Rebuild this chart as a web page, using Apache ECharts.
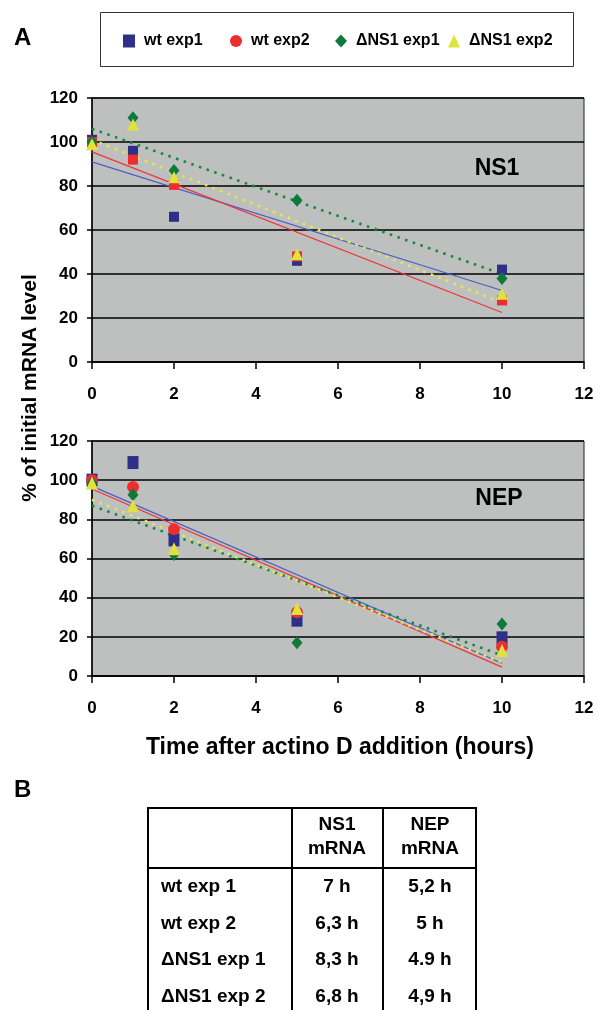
<!DOCTYPE html>
<html>
<head>
<meta charset="utf-8">
<script src="https://cdn.jsdelivr.net/npm/echarts@6/dist/echarts.min.js"></script>
<style>
  html, body { margin: 0; padding: 0; background: #fff; }
  #chart { width: 598px; height: 1010px; }
</style>
</head>
<body>
<div id="chart"></div>
<script>
// data
var hours = [0, 1, 2, 5, 10];
var seriesNames = ['wt exp1', 'wt exp2', '\u0394NS1 exp1', '\u0394NS1 exp2'];

// NS1 panel (% of initial mRNA)
var ns1Wt1 = [101, 96, 66, 46, 42];
var ns1Wt2 = [100, 92, 80.5, 48, 28];
var ns1Dns1 = [100, 111, 87, 73.5, 38];
var ns1Dns2 = [99, 108, 84, 49, 31];
// trend line ends at 0 h and 10 h
var ns1TrendX = [0, 10];
var ns1TrendWt1 = [91, 32.5];
var ns1TrendWt2 = [95.5, 22.5];
var ns1TrendDns1 = [106, 40];
var ns1TrendDns2 = [101, 27];

// NEP panel
var nepWt1 = [100, 109, 69.5, 28.5, 19.5];
var nepWt2 = [100, 96.5, 75, 32.5, 15];
var nepDns1 = [98.5, 92.5, 62, 17, 26.5];
var nepDns2 = [98.5, 87, 65, 34.5, 13];
var nepTrendX = [0, 10];
var nepTrendWt1 = [97, 6.5];
var nepTrendWt2 = [95.5, 4.5];
var nepTrendDns1 = [87, 10.5];
var nepTrendDns2 = [90, 7];

var xTicks = [0, 2, 4, 6, 8, 10, 12];
var yTicks = [0, 20, 40, 60, 80, 100, 120];

// table B
var tableRows = ['wt exp 1', 'wt exp 2', '\u0394NS1 exp 1', '\u0394NS1 exp 2'];
var tableNs1 = ['7 h', '6,3 h', '8,3 h', '6,8 h'];
var tableNep = ['5,2 h', '5 h', '4.9 h', '4,9 h'];

var FONT = "'Liberation Sans', Arial, Helvetica, sans-serif";
var markColors = ['#2e3088', '#ee2d2e', '#0d7a3a', '#dfe33c'];
var lineColors = ['#4d5ec4', '#ef3535', '#148a3e', '#e6e748'];

function pairs(xs, ys) {
	var out = [];
	for (var i = 0; i < xs.length; i++) out.push([xs[i], ys[i]]);
	return out;
}

var myChart = echarts.init(document.getElementById('chart'));

function xAxisFor(idx) {
	return {
		type: 'value', gridIndex: idx, min: 0, max: 12, interval: 2,
		axisLine: { show: true, onZero: false, lineStyle: { color: '#000', width: 1.5 } },
		axisTick: { show: true, length: 7, lineStyle: { color: '#000', width: 1.5 } },
		axisLabel: { margin: 24, color: '#000', fontFamily: FONT, fontWeight: 'bold', fontSize: 17,
			formatter: function (v) { return xTicks.indexOf(v) >= 0 ? String(v) : ''; } },
		splitLine: { show: false }
	};
}
function yAxisFor(idx) {
	return {
		type: 'value', gridIndex: idx, min: 0, max: 120, interval: 20,
		axisLine: { show: true, lineStyle: { color: '#000', width: 1.5 } },
		axisTick: { show: true, length: 5, lineStyle: { color: '#000', width: 1.5 } },
		axisLabel: { margin: 14, color: '#000', fontFamily: FONT, fontWeight: 'bold', fontSize: 17,
			formatter: function (v) { return yTicks.indexOf(v) >= 0 ? String(v) : ''; } },
		splitLine: { show: true, lineStyle: { color: '#000', width: 1.6 } }
	};
}

function trend(name, idx, xs, ys, color, dotted) {
	return {
		name: name, type: 'line', xAxisIndex: idx, yAxisIndex: idx,
		data: pairs(xs, ys), showSymbol: false, silent: true, z: 2,
		lineStyle: dotted
			? { color: color, width: 2.6, type: [2.6, 5.5] }
			: { color: color, width: 1.3 }
	};
}
function dots(name, idx, ys, symbol, size, color) {
	return {
		name: name, type: 'scatter', xAxisIndex: idx, yAxisIndex: idx,
		data: pairs(hours, ys), symbol: symbol, symbolSize: size, z: 3,
		itemStyle: { color: color, opacity: 1 }
	};
}

var legendIcons = ['rect', 'circle', 'diamond', 'triangle'];
var legendLeft = [118, 225, 330, 443];
var legends = [];
for (var i = 0; i < seriesNames.length; i++) {
	legends.push({
		data: [{ name: seriesNames[i], icon: legendIcons[i] }],
		left: legendLeft[i], top: 28, itemWidth: 12, itemHeight: 13,
		selectedMode: false,
		textStyle: { color: '#000', fontFamily: FONT, fontWeight: 'bold', fontSize: 16, padding: [0, 0, 0, 4] }
	});
}

var graphics = [
	{ type: 'rect', shape: { x: 100.5, y: 12.5, width: 473, height: 54 },
		style: { fill: 'none', stroke: '#333', lineWidth: 1 } },
	{ type: 'text', x: 14, y: 38, style: { text: 'A', font: 'bold 24px ' + FONT, fill: '#000', textVerticalAlign: 'middle' } },
	{ type: 'text', x: 14, y: 790, style: { text: 'B', font: 'bold 24px ' + FONT, fill: '#000', textVerticalAlign: 'middle' } },
	{ type: 'text', x: 497, y: 169, z: 10, style: { text: 'NS1', font: 'bold 23px ' + FONT, fill: '#000', textAlign: 'center', textVerticalAlign: 'middle' } },
	{ type: 'text', x: 499, y: 499, z: 10, style: { text: 'NEP', font: 'bold 23px ' + FONT, fill: '#000', textAlign: 'center', textVerticalAlign: 'middle' } },
	{ type: 'text', x: 30, y: 388, rotation: Math.PI / 2,
		style: { text: '% of initial mRNA level', font: 'bold 21px ' + FONT, fill: '#000', textAlign: 'center', textVerticalAlign: 'middle' } },
	{ type: 'text', x: 340, y: 748,
		style: { text: 'Time after actino D addition (hours)', font: 'bold 23px ' + FONT, fill: '#000', textAlign: 'center', textVerticalAlign: 'middle' } },
	// table B frame
	{ type: 'rect', shape: { x: 148, y: 808, width: 328, height: 215 },
		style: { fill: 'none', stroke: '#000', lineWidth: 2 } },
	{ type: 'line', shape: { x1: 292, y1: 808, x2: 292, y2: 1020 }, style: { stroke: '#000', lineWidth: 2 } },
	{ type: 'line', shape: { x1: 383, y1: 808, x2: 383, y2: 1020 }, style: { stroke: '#000', lineWidth: 2 } },
	{ type: 'line', shape: { x1: 148, y1: 868, x2: 476, y2: 868 }, style: { stroke: '#000', lineWidth: 2 } },
	{ type: 'text', x: 337, y: 837, style: { text: 'NS1\nmRNA', font: 'bold 19px ' + FONT, lineHeight: 24, fill: '#000', textAlign: 'center', textVerticalAlign: 'middle' } },
	{ type: 'text', x: 430, y: 837, style: { text: 'NEP\nmRNA', font: 'bold 19px ' + FONT, lineHeight: 24, fill: '#000', textAlign: 'center', textVerticalAlign: 'middle' } }
];
var rowY = [887, 924, 960, 997];
for (var r = 0; r < tableRows.length; r++) {
	graphics.push({ type: 'text', x: 161, y: rowY[r], style: { text: tableRows[r], font: 'bold 19px ' + FONT, fill: '#000', textVerticalAlign: 'middle' } });
	graphics.push({ type: 'text', x: 337, y: rowY[r], style: { text: tableNs1[r], font: 'bold 19px ' + FONT, fill: '#000', textAlign: 'center', textVerticalAlign: 'middle' } });
	graphics.push({ type: 'text', x: 430, y: rowY[r], style: { text: tableNep[r], font: 'bold 19px ' + FONT, fill: '#000', textAlign: 'center', textVerticalAlign: 'middle' } });
}

myChart.setOption({
	animation: false,
	backgroundColor: '#fff',
	legend: legends,
	grid: [
		{ left: 92, top: 98, width: 492, height: 264, show: true, backgroundColor: '#bec0c0', borderColor: '#222', borderWidth: 1 },
		{ left: 92, top: 441, width: 492, height: 235, show: true, backgroundColor: '#bec0c0', borderColor: '#222', borderWidth: 1 }
	],
	xAxis: [xAxisFor(0), xAxisFor(1)],
	yAxis: [yAxisFor(0), yAxisFor(1)],
	series: [
		trend('ns1 trend wt1', 0, ns1TrendX, ns1TrendWt1, lineColors[0], false),
		trend('ns1 trend wt2', 0, ns1TrendX, ns1TrendWt2, lineColors[1], false),
		trend('ns1 trend d1', 0, ns1TrendX, ns1TrendDns1, lineColors[2], true),
		trend('ns1 trend d2', 0, ns1TrendX, ns1TrendDns2, lineColors[3], true),
		dots(seriesNames[0], 0, ns1Wt1, 'rect', 10, markColors[0]),
		dots(seriesNames[1], 0, ns1Wt2, 'rect', 10, markColors[1]),
		dots(seriesNames[2], 0, ns1Dns1, 'diamond', [11, 13], markColors[2]),
		dots(seriesNames[3], 0, ns1Dns2, 'triangle', [12, 12], markColors[3]),
		trend('nep trend wt1', 1, nepTrendX, nepTrendWt1, lineColors[0], false),
		trend('nep trend wt2', 1, nepTrendX, nepTrendWt2, lineColors[1], false),
		trend('nep trend d1', 1, nepTrendX, nepTrendDns1, lineColors[2], true),
		trend('nep trend d2', 1, nepTrendX, nepTrendDns2, lineColors[3], true),
		dots(seriesNames[0], 1, nepWt1, 'rect', [11, 13], markColors[0]),
		dots(seriesNames[1], 1, nepWt2, 'circle', 12, markColors[1]),
		dots(seriesNames[2], 1, nepDns1, 'diamond', [11, 13], markColors[2]),
		dots(seriesNames[3], 1, nepDns2, 'triangle', [12, 13], markColors[3])
	],
	graphic: graphics
});
</script>
</body>
</html>
